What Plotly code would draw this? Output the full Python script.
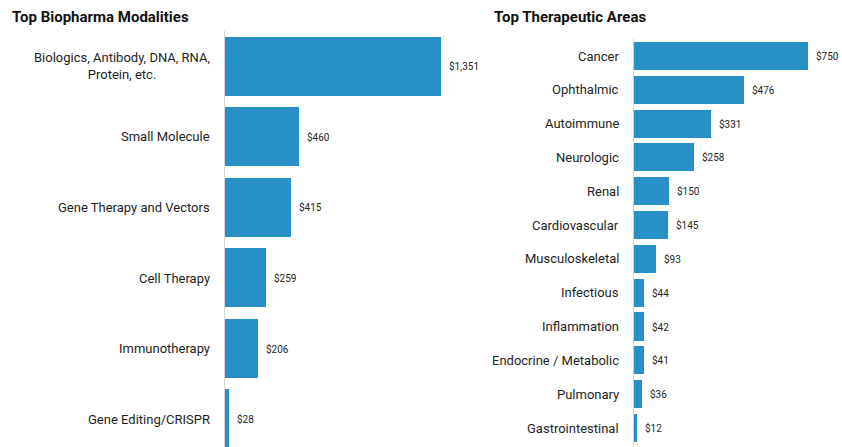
import plotly.graph_objects as go

OFF = 0
W, H = 842, 447

mod_titles = "Top Biopharma Modalities"
mod_cats = ["Biologics, Antibody, DNA, RNA,<br>Protein, etc.", "Small Molecule",
            "Gene Therapy and Vectors", "Cell Therapy", "Immunotherapy", "Gene Editing/CRISPR"]
mod_vals = [1351, 460, 415, 259, 206, 28]

ther_title = "Top Therapeutic Areas"
ther_cats = ["Cancer", "Ophthalmic", "Autoimmune", "Neurologic", "Renal", "Cardiovascular",
             "Musculoskeletal", "Infectious", "Inflammation", "Endocrine / Metabolic",
             "Pulmonary", "Gastrointestinal"]
ther_vals = [750, 476, 331, 258, 150, 145, 93, 44, 42, 41, 36, 12]

BAR = "#2990c7"
AXIS = "#d4d4d4"
TXT = "#1e1e1e"
FONT = "Roboto"

fig = go.Figure()
fig.add_trace(go.Bar(x=mod_vals, y=list(range(len(mod_cats))), orientation="h",
                     marker=dict(color=BAR, line=dict(width=0)), width=0.84,
                     xaxis="x", yaxis="y", hoverinfo="skip"))
fig.add_trace(go.Bar(x=ther_vals, y=list(range(len(ther_cats))), orientation="h",
                     marker=dict(color=BAR, line=dict(width=0)), width=0.83,
                     xaxis="x2", yaxis="y2", hoverinfo="skip"))

lx0, lx1 = 225 - OFF, 455 - OFF
l_px_per = 0.16
rx0, rx1 = 634 - OFF, 830 - OFF
r_px_per = 0.232

ann = []
for i, (c, v) in enumerate(zip(mod_cats, mod_vals)):
    ann.append(dict(x=0, y=i, xref="x", yref="y", text=c, showarrow=False,
                    xanchor="right", xshift=-13, align="center",
                    font=dict(family=FONT, size=13, color=TXT)))
    ann.append(dict(x=v, y=i, xref="x", yref="y", text="${:,}".format(v), showarrow=False,
                    xanchor="left", xshift=6, font=dict(family=FONT, size=10, color=TXT)))
for i, (c, v) in enumerate(zip(ther_cats, ther_vals)):
    ann.append(dict(x=0, y=i, xref="x2", yref="y2", text=c, showarrow=False,
                    xanchor="right", xshift=-13, align="center",
                    font=dict(family=FONT, size=13, color=TXT)))
    ann.append(dict(x=v, y=i, xref="x2", yref="y2", text="${:,}".format(v), showarrow=False,
                    xanchor="left", xshift=6, font=dict(family=FONT, size=10, color=TXT)))

ann.append(dict(x=(10 - OFF) / W, y=1 - (17 - OFF) / H, xref="paper", yref="paper",
                text="<b>" + mod_titles + "</b>",
                showarrow=False, xanchor="left", yanchor="middle",
                font=dict(family=FONT, size=15, color="#111111")))
ann.append(dict(x=(492 - OFF) / W, y=1 - (17 - OFF) / H, xref="paper", yref="paper",
                text="<b>" + ther_title + "</b>",
                showarrow=False, xanchor="left", yanchor="middle",
                font=dict(family=FONT, size=15, color="#111111")))

ltop = 31.25 - OFF
lspacing = 70.5
lbottom_val = -0.5 + (H - ltop) / lspacing

rtop, rbot = 39.1 - OFF, 445.0 - OFF

fig.update_layout(
    width=W, height=H, margin=dict(l=0, r=0, t=0, b=0),
    paper_bgcolor="white", plot_bgcolor="white", showlegend=False,
    bargap=0,
    xaxis=dict(domain=[lx0 / W, lx1 / W], range=[0, (lx1 - lx0) / l_px_per],
               showgrid=False, zeroline=False, showticklabels=False, showline=False),
    yaxis=dict(domain=[0, 1 - ltop / H], range=[lbottom_val, -0.5], anchor="x",
               showgrid=False, zeroline=False, showticklabels=False,
               showline=True, linecolor=AXIS, linewidth=1),
    xaxis2=dict(domain=[rx0 / W, rx1 / W], range=[0, (rx1 - rx0) / r_px_per], anchor="y2",
                showgrid=False, zeroline=False, showticklabels=False, showline=False),
    yaxis2=dict(domain=[1 - rbot / H, 1 - rtop / H], range=[11.5, -0.5], anchor="x2",
                showgrid=False, zeroline=False, showticklabels=False,
                showline=True, linecolor=AXIS, linewidth=1),
    annotations=ann,
)

fig.write_html("out.html",
               config={"displayModeBar": False},
               post_script="document.body.style.margin='0';"
                           "document.documentElement.style.overflow='hidden';")
